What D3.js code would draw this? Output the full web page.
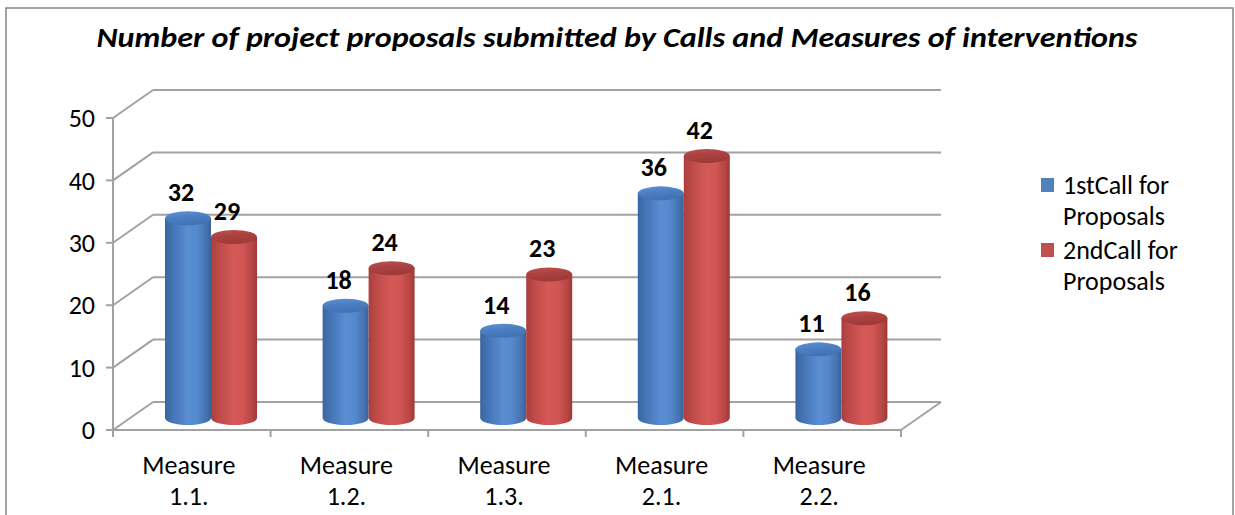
<!DOCTYPE html>
<html>
<head>
<meta charset="utf-8">
<script src="https://cdn.jsdelivr.net/npm/d3@7/dist/d3.min.js"></script>
<style>
  html, body { margin: 0; padding: 0; background: #fff; }
  svg { display: block; }
  text { font-family: "Carlito", "Open Sans", "Lato", sans-serif; }
</style>
</head>
<body>
<svg id="chart" width="1235" height="515"></svg>
<script>
const title = "Number of project proposals submitted by Calls and Measures of interventions";
const categories = [["Measure", "1.1."], ["Measure", "1.2."], ["Measure", "1.3."], ["Measure", "2.1."], ["Measure", "2.2."]];
const seriesNames = [["1stCall for", "Proposals"], ["2ndCall for", "Proposals"]];
const firstCall = [32, 18, 14, 36, 11];
const secondCall = [29, 24, 23, 42, 16];
const yTicks = [0, 10, 20, 30, 40, 50];

const svg = d3.select("#chart");

// layout
const x0 = 113, x1 = 901, yTop = 118, yBot = 430;
const depthX = 40, depthY = -28;   // back wall offset
const midX = 0, midY = -12;        // bar depth position offset
const rx = 23, ry = 7;

const catKeys = categories.map(d => d.join(" "));
const x = d3.scaleBand().domain(catKeys).range([x0, x1]).padding(0);
const xs = d3.scaleBand().domain([0, 1]).range([52, 144]).padding(0);
const y = d3.scaleLinear().domain([0, 50]).range([yBot, yTop]);

// outer border
svg.append("rect").attr("x", 6).attr("y", 8).attr("width", 1227).attr("height", 520)
  .attr("fill", "#fff").attr("stroke", "#868686").attr("stroke-width", 1.5);

// title
svg.append("text").attr("x", 617).attr("y", 47).attr("text-anchor", "middle")
  .attr("font-size", 29).attr("font-weight", "bold").attr("font-style", "italic")
  .attr("textLength", 1041).attr("lengthAdjust", "spacingAndGlyphs")
  .attr("fill", "#000").text(title);

const grid = svg.append("g").attr("stroke", "#a2a2a2").attr("stroke-width", 2).attr("fill", "none");
// back wall gridlines + side wall diagonals
yTicks.forEach(t => {
  const yy = y(t);
  grid.append("line").attr("x1", x0 + depthX).attr("x2", x1 + depthX)
    .attr("y1", yy + depthY).attr("y2", yy + depthY);
  grid.append("line").attr("x1", x0).attr("x2", x0 + depthX)
    .attr("y1", yy).attr("y2", yy + depthY);
});
// floor
grid.append("line").attr("x1", x0).attr("x2", x1).attr("y1", yBot).attr("y2", yBot);
grid.append("line").attr("x1", x1).attr("x2", x1 + depthX).attr("y1", yBot).attr("y2", yBot + depthY);
// y axis
grid.append("line").attr("x1", x0).attr("x2", x0).attr("y1", yTop).attr("y2", yBot);
yTicks.forEach(t => {
  grid.append("line").attr("x1", x0 - 7).attr("x2", x0).attr("y1", y(t)).attr("y2", y(t));
});
// category ticks
const catEdges = catKeys.map(k => x(k)).concat([x1]);
catEdges.forEach(e => {
  grid.append("line").attr("x1", e).attr("x2", e).attr("y1", yBot).attr("y2", yBot + 7);
});

// y tick labels
svg.append("g").selectAll("text").data(yTicks).join("text")
  .attr("x", 95).attr("y", d => y(d)).attr("dy", "0.35em")
  .attr("text-anchor", "end").attr("font-size", 26).attr("fill", "#000")
  .text(d => d);

// category labels
const catG = svg.append("g");
categories.forEach((c, i) => {
  const cx = x(catKeys[i]) + x.bandwidth() / 2 - 3;
  catG.append("text").attr("x", cx).attr("y", 474).attr("text-anchor", "middle")
    .attr("font-size", 26).attr("fill", "#000").text(c[0]);
  catG.append("text").attr("x", cx).attr("y", 505).attr("text-anchor", "middle")
    .attr("font-size", 26).attr("fill", "#000").text(c[1]);
});

// gradients
const defs = svg.append("defs");
function grad(id, stops) {
  const g = defs.append("linearGradient").attr("id", id).attr("x1", "0").attr("x2", "1").attr("y1", "0").attr("y2", "0");
  stops.forEach(s => g.append("stop").attr("offset", s[0]).attr("stop-color", s[1]));
}
grad("bodyBlue", [[0, "#3a659f"], [0.18, "#4675b6"], [0.5, "#5a8dd3"], [0.7, "#5589cd"], [0.9, "#4572b0"], [1, "#3a6198"]]);
grad("bodyRed", [[0, "#a83f3d"], [0.18, "#bf4b49"], [0.5, "#d55a57"], [0.7, "#d05553"], [0.9, "#b54543"], [1, "#9c3836"]]);
function vgrad(id, stops) {
  const g = defs.append("linearGradient").attr("id", id).attr("x1", "0").attr("x2", "0.3").attr("y1", "0").attr("y2", "1");
  stops.forEach(s => g.append("stop").attr("offset", s[0]).attr("stop-color", s[1]));
}
vgrad("topBlue", [[0, "#5f92d6"], [0.5, "#4c7fc2"], [1, "#4173b3"]]);
vgrad("topRed", [[0, "#c25250"], [0.5, "#ab4240"], [1, "#9e3a38"]]);

const seriesData = [firstCall, secondCall];
const bodyFill = ["url(#bodyBlue)", "url(#bodyRed)"];
const topFill = ["url(#topBlue)", "url(#topRed)"];

const bars = svg.append("g");
const labels = svg.append("g");
catKeys.forEach((k, i) => {
  [0, 1].forEach(s => {
    const v = seriesData[s][i];
    const cx = x(k) + xs(s) + xs.bandwidth() / 2 + midX;
    const yb = y(0) + midY;
    const yt = y(v) + midY;
    const g = bars.append("g");
    const path = `M${cx - rx},${yt} L${cx - rx},${yb} A${rx},${ry} 0 0 0 ${cx + rx},${yb} L${cx + rx},${yt} Z`;
    g.append("path").attr("d", path).attr("fill", bodyFill[s]);
    g.append("ellipse").attr("cx", cx).attr("cy", yt).attr("rx", rx).attr("ry", ry).attr("fill", topFill[s]);
    labels.append("text").attr("x", cx - 7).attr("y", yt - 17).attr("text-anchor", "middle")
      .attr("font-size", 26).attr("font-weight", "bold").attr("fill", "#000").text(v);
  });
});

// legend
const legColors = ["#4f81bd", "#c0504d"];
const leg = svg.append("g");
seriesNames.forEach((n, i) => {
  const by = 194 + i * 65;
  leg.append("rect").attr("x", 1041).attr("y", by - 16).attr("width", 13).attr("height", 14).attr("fill", legColors[i]);
  leg.append("text").attr("x", 1063).attr("y", by).attr("font-size", 26).attr("fill", "#000").text(n[0]);
  leg.append("text").attr("x", 1063).attr("y", by + 31).attr("font-size", 26).attr("fill", "#000").text(n[1]);
});
</script>
</body>
</html>
